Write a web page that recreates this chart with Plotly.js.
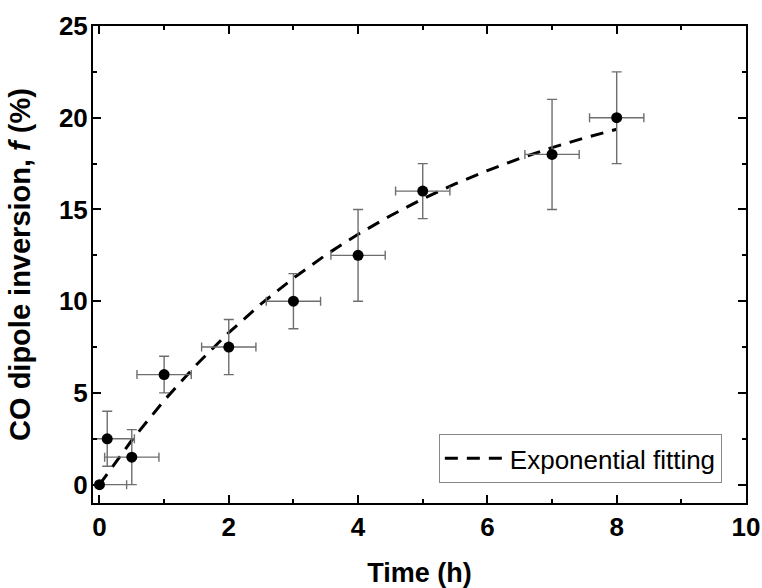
<!DOCTYPE html>
<html>
<head>
<meta charset="utf-8">
<script src="https://cdn.plot.ly/plotly-3.0.1.min.js"></script>
<style>html,body{margin:0;padding:0;background:#fff}#chart{width:762px;height:588px}</style>
</head>
<body>
<div id="chart"></div>
<script>
// Measured points
const timeH = [0, 0.12, 0.5, 1, 2, 3, 4, 5, 7, 8];
const inversionPct = [0, 2.5, 1.5, 6, 7.5, 10, 12.5, 16, 18, 20];
const timeErr = [0.42, 0.42, 0.42, 0.42, 0.42, 0.42, 0.42, 0.42, 0.42, 0.42];
const inversionErr = [0, 1.5, 1.5, 1, 1.5, 1.5, 2.5, 1.5, 3, 2.5];

// Exponential fitting curve
const fitTime = [0, 0.5, 1, 1.5, 2, 2.5, 3, 3.5, 4, 4.5, 5, 5.5, 6, 6.5, 7, 7.5, 8];
const fitPct = [0, 2.42, 4.59, 6.54, 8.29, 9.85, 11.26, 12.52, 13.65, 14.66, 15.58, 16.39, 17.12, 17.78, 18.37, 18.9, 19.37];

const xTicks = [0, 2, 4, 6, 8, 10];
const yTicks = [0, 5, 10, 15, 20, 25];

const FONT = '"Liberation Sans", Arial, sans-serif';

const traces = [
  {
    x: fitTime, y: fitPct, type: 'scatter', mode: 'lines',
    name: 'Exponential fitting',
    line: {color: '#000', width: 3, dash: '13px,9px'},
    showlegend: true
  },
  {
    x: timeH, y: inversionPct, type: 'scatter', mode: 'markers',
    marker: {color: '#000', size: 11},
    error_x: {type: 'data', array: timeErr, visible: true, color: '#6e6e6e', thickness: 1.4, width: 4.5},
    error_y: {type: 'data', array: inversionErr, visible: true, color: '#6e6e6e', thickness: 1.4, width: 5},
    showlegend: false
  }
];

const axisCommon = {
  showline: true, linecolor: '#000', linewidth: 2, mirror: 'ticks',
  ticks: 'inside', ticklen: 8, tickwidth: 2, tickcolor: '#000',
  showgrid: false, zeroline: false,
  tickfont: {family: FONT, size: 26, color: '#000', weight: 'bold'}
};

const layout = {
  width: 762, height: 588,
  margin: {l: 93, r: 16, t: 26, b: 85},
  paper_bgcolor: '#fff', plot_bgcolor: '#fff',
  font: {family: FONT, color: '#000'},
  xaxis: Object.assign({}, axisCommon, {
    range: [-0.1, 10], tickvals: xTicks, ticktext: xTicks.map(String),
    minor: {dtick: 1, ticks: 'inside', ticklen: 4, tickwidth: 2, tickcolor: '#000', tick0: 0},
    title: {text: '<b>Time (h)</b>', font: {family: FONT, size: 27, color: '#000'}, standoff: 22}
  }),
  yaxis: Object.assign({}, axisCommon, {
    range: [-1, 25], tickvals: yTicks, ticktext: yTicks.map(String),
    minor: {dtick: 2.5, ticks: 'inside', ticklen: 4, tickwidth: 2, tickcolor: '#000', tick0: 0},
    ticklabelstandoff: -2,
    title: {text: '<b>CO dipole inversion, <i>f</i> (%)</b>', font: {family: FONT, size: 29, color: '#000'}, standoff: 20}
  }),
  legend: {
    x: 0.963, y: 0.042, xanchor: 'right', yanchor: 'bottom',
    bgcolor: '#fff', bordercolor: '#888', borderwidth: 1,
    font: {family: FONT, size: 26, color: '#000'},
    itemwidth: 60
  },
  showlegend: true
};

Plotly.newPlot('chart', traces, layout, {displayModeBar: false, staticPlot: true});
</script>
</body>
</html>
